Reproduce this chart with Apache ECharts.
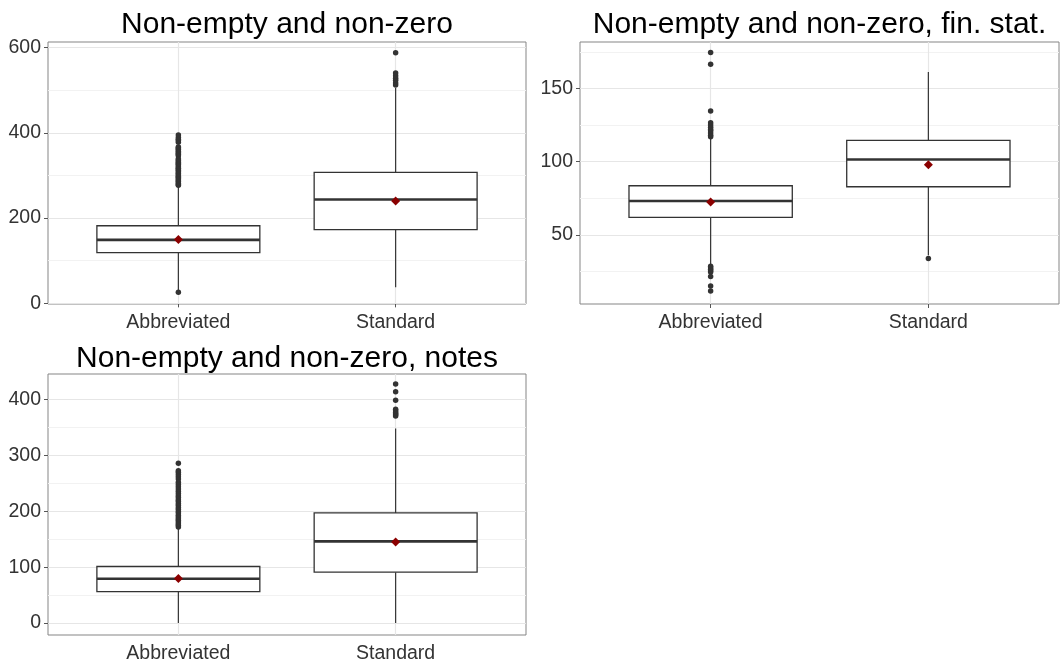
<!DOCTYPE html>
<html>
<head>
<meta charset="utf-8">
<script src="https://cdn.jsdelivr.net/npm/echarts@6/dist/echarts.min.js"></script>
<style>
html,body{margin:0;padding:0;background:#fff;}
#chart{width:1061px;height:664px;}
</style>
</head>
<body>
<div id="chart"></div>
<script>
// ---------- data ----------
const CATEGORIES = ['Abbreviated', 'Standard'];
const TITLES = ['Non-empty and non-zero', 'Non-empty and non-zero, fin. stat.', 'Non-empty and non-zero, notes'];

// box stats: [lower whisker, Q1, median, Q3, upper whisker]
const P1_BOX_ABBR = [30, 119, 149, 182, 275];
const P1_BOX_STD  = [38, 173, 243.5, 307, 505];
const P1_MEANS    = [150, 240];
const P1_OUT_ABBR = [26, 277, 279, 282, 285, 287, 290, 293, 296, 298, 301, 304, 306, 309, 312, 315, 317, 320, 323, 326, 328, 331, 334, 336, 339, 346, 349, 351, 354, 357, 360, 362, 365, 367, 378, 382, 385, 389, 395];
const P1_OUT_STD  = [512, 517, 523, 528, 534, 540, 588];
const P1_Y_MAJOR  = [0, 200, 400, 600];
const P1_Y_MINOR  = [100, 300, 500];

const P2_BOX_ABBR = [30, 61.9, 73.1, 83.5, 116];
const P2_BOX_STD  = [36, 82.8, 101.4, 114.5, 161.2];
const P2_MEANS    = [72.4, 97.8];
const P2_OUT_ABBR = [11.5, 15, 21.5, 24.5, 25.5, 26.5, 27.5, 28.5, 117, 118, 119.5, 121, 122, 123.5, 125, 126.5, 134.5, 166.5, 174.5];
const P2_OUT_STD  = [33.8];
const P2_Y_MAJOR  = [50, 100, 150];
const P2_Y_MINOR  = [25, 75, 125, 175];

const P3_BOX_ABBR = [0, 56.2, 79.3, 101.3, 170.5];
const P3_BOX_STD  = [0, 91.2, 146.3, 197.3, 348.4];
const P3_MEANS    = [79.9, 145];
const P3_OUT_ABBR = [172, 175, 178, 181, 184, 187, 190, 193, 197, 200, 204, 207, 211, 214, 218, 221, 225, 228, 232, 236, 240, 244, 248, 252, 258, 262, 266, 270, 273, 286];
const P3_OUT_STD  = [371, 373, 375, 377, 380, 383, 399, 414, 428];
const P3_Y_MAJOR  = [0, 100, 200, 300, 400];
const P3_Y_MINOR  = [50, 150, 250, 350];

// ---------- layout / style ----------
const X_MIN = 0.4, X_MAX = 2.6, BOX_W = 0.75;
const FONT = "'Liberation Sans', Arial, sans-serif";
const GRIDS = [
  {left: 48, top: 42, width: 478, height: 262},
  {left: 580, top: 42, width: 479, height: 262},
  {left: 48, top: 374, width: 478, height: 263}
];
const Y_RANGES = [[-1.5, 613], [2.7, 181.7], [-21.3, 446]];
const TITLE_TOPS = [10, 10, 344];

const panels = [
  {boxes: [P1_BOX_ABBR, P1_BOX_STD], means: P1_MEANS, outs: [P1_OUT_ABBR, P1_OUT_STD], major: P1_Y_MAJOR, minor: P1_Y_MINOR},
  {boxes: [P2_BOX_ABBR, P2_BOX_STD], means: P2_MEANS, outs: [P2_OUT_ABBR, P2_OUT_STD], major: P2_Y_MAJOR, minor: P2_Y_MINOR},
  {boxes: [P3_BOX_ABBR, P3_BOX_STD], means: P3_MEANS, outs: [P3_OUT_ABBR, P3_OUT_STD], major: P3_Y_MAJOR, minor: P3_Y_MINOR}
];

const STROKE = '#333333';

function renderBox(params, api) {
  const x = api.value(0);
  const lo = api.coord([x, api.value(1)]);
  const q1 = api.coord([x, api.value(2)]);
  const md = api.coord([x, api.value(3)]);
  const q3 = api.coord([x, api.value(4)]);
  const hi = api.coord([x, api.value(5)]);
  const hw = api.size([BOX_W, 0])[0] / 2;
  return {
    type: 'group',
    children: [
      {type: 'line', shape: {x1: lo[0], y1: lo[1], x2: q1[0], y2: q1[1]}, style: {stroke: STROKE, lineWidth: 1.2}},
      {type: 'line', shape: {x1: q3[0], y1: q3[1], x2: hi[0], y2: hi[1]}, style: {stroke: STROKE, lineWidth: 1.2}},
      {type: 'rect', shape: {x: q3[0] - hw, y: q3[1], width: 2 * hw, height: q1[1] - q3[1]}, style: {fill: '#ffffff', stroke: STROKE, lineWidth: 1.3}},
      {type: 'line', shape: {x1: md[0] - hw, y1: md[1], x2: md[0] + hw, y2: md[1]}, style: {stroke: STROKE, lineWidth: 2.6}}
    ]
  };
}

const option = {
  animation: false,
  backgroundColor: '#ffffff',
  title: [], grid: [], xAxis: [], yAxis: [], series: []
};

panels.forEach(function (p, i) {
  const g = GRIDS[i];
  option.title.push({
    text: TITLES[i], left: g.left + g.width / 2, top: TITLE_TOPS[i], textAlign: 'center', padding: 0,
    textStyle: {fontFamily: FONT, fontSize: 30, fontWeight: 'normal', color: '#000000'}
  });
  option.grid.push({
    left: g.left, top: g.top, width: g.width, height: g.height,
    show: true, backgroundColor: '#ffffff', borderColor: '#858585', borderWidth: 1, containLabel: false
  });
  const catVals = CATEGORIES.map(function (c, k) { return k + 1; });
  option.xAxis.push({
    type: 'value', gridIndex: i, min: X_MIN, max: X_MAX,
    axisLine: {show: false},
    axisTick: {show: true, length: 4, customValues: catVals, lineStyle: {color: '#555555', width: 1}},
    axisLabel: {show: true, customValues: catVals, margin: 9, color: '#333333', fontFamily: FONT, fontSize: 19.5,
      formatter: function (v) { return CATEGORIES[Math.round(v) - 1] || ''; }},
    splitLine: {show: false}
  });
  option.yAxis.push({
    type: 'value', gridIndex: i, min: Y_RANGES[i][0], max: Y_RANGES[i][1],
    axisLine: {show: false},
    axisTick: {show: true, length: 4, customValues: p.major, lineStyle: {color: '#555555', width: 1}},
    axisLabel: {show: true, customValues: p.major, margin: 7, color: '#333333', fontFamily: FONT, fontSize: 19.5},
    splitLine: {show: false}
  });

  const gridLines = [];
  p.minor.forEach(function (v) { gridLines.push({yAxis: v, lineStyle: {color: '#f2f2f2', width: 1, type: 'solid'}}); });
  p.major.forEach(function (v) { gridLines.push({yAxis: v, lineStyle: {color: '#e6e6e6', width: 1.2, type: 'solid'}}); });
  catVals.forEach(function (v) { gridLines.push({xAxis: v, lineStyle: {color: '#e6e6e6', width: 1.2, type: 'solid'}}); });

  const boxData = p.boxes.map(function (b, k) { return [k + 1].concat(b); });
  option.series.push({
    type: 'custom', xAxisIndex: i, yAxisIndex: i, z: 3,
    renderItem: renderBox,
    encode: {x: 0, y: [1, 2, 3, 4, 5]},
    data: boxData, silent: true
  });

  const outData = [];
  p.outs.forEach(function (arr, k) { arr.forEach(function (v) { outData.push([k + 1, v]); }); });
  option.series.push({
    type: 'scatter', xAxisIndex: i, yAxisIndex: i, z: 4, silent: true,
    symbol: 'circle', symbolSize: 5.5, itemStyle: {color: '#333333', opacity: 1},
    data: outData,
    markLine: {silent: true, z: 1, symbol: ['none', 'none'], label: {show: false}, animation: false,
      emphasis: {disabled: true}, data: gridLines}
  });

  option.series.push({
    type: 'scatter', xAxisIndex: i, yAxisIndex: i, z: 5, silent: true,
    symbol: 'diamond', symbolSize: 9, itemStyle: {color: '#8b0000', opacity: 1},
    data: p.means.map(function (m, k) { return [k + 1, m]; })
  });
});

const chart = echarts.init(document.getElementById('chart'), null, {renderer: 'canvas'});
chart.setOption(option);
</script>
</body>
</html>
